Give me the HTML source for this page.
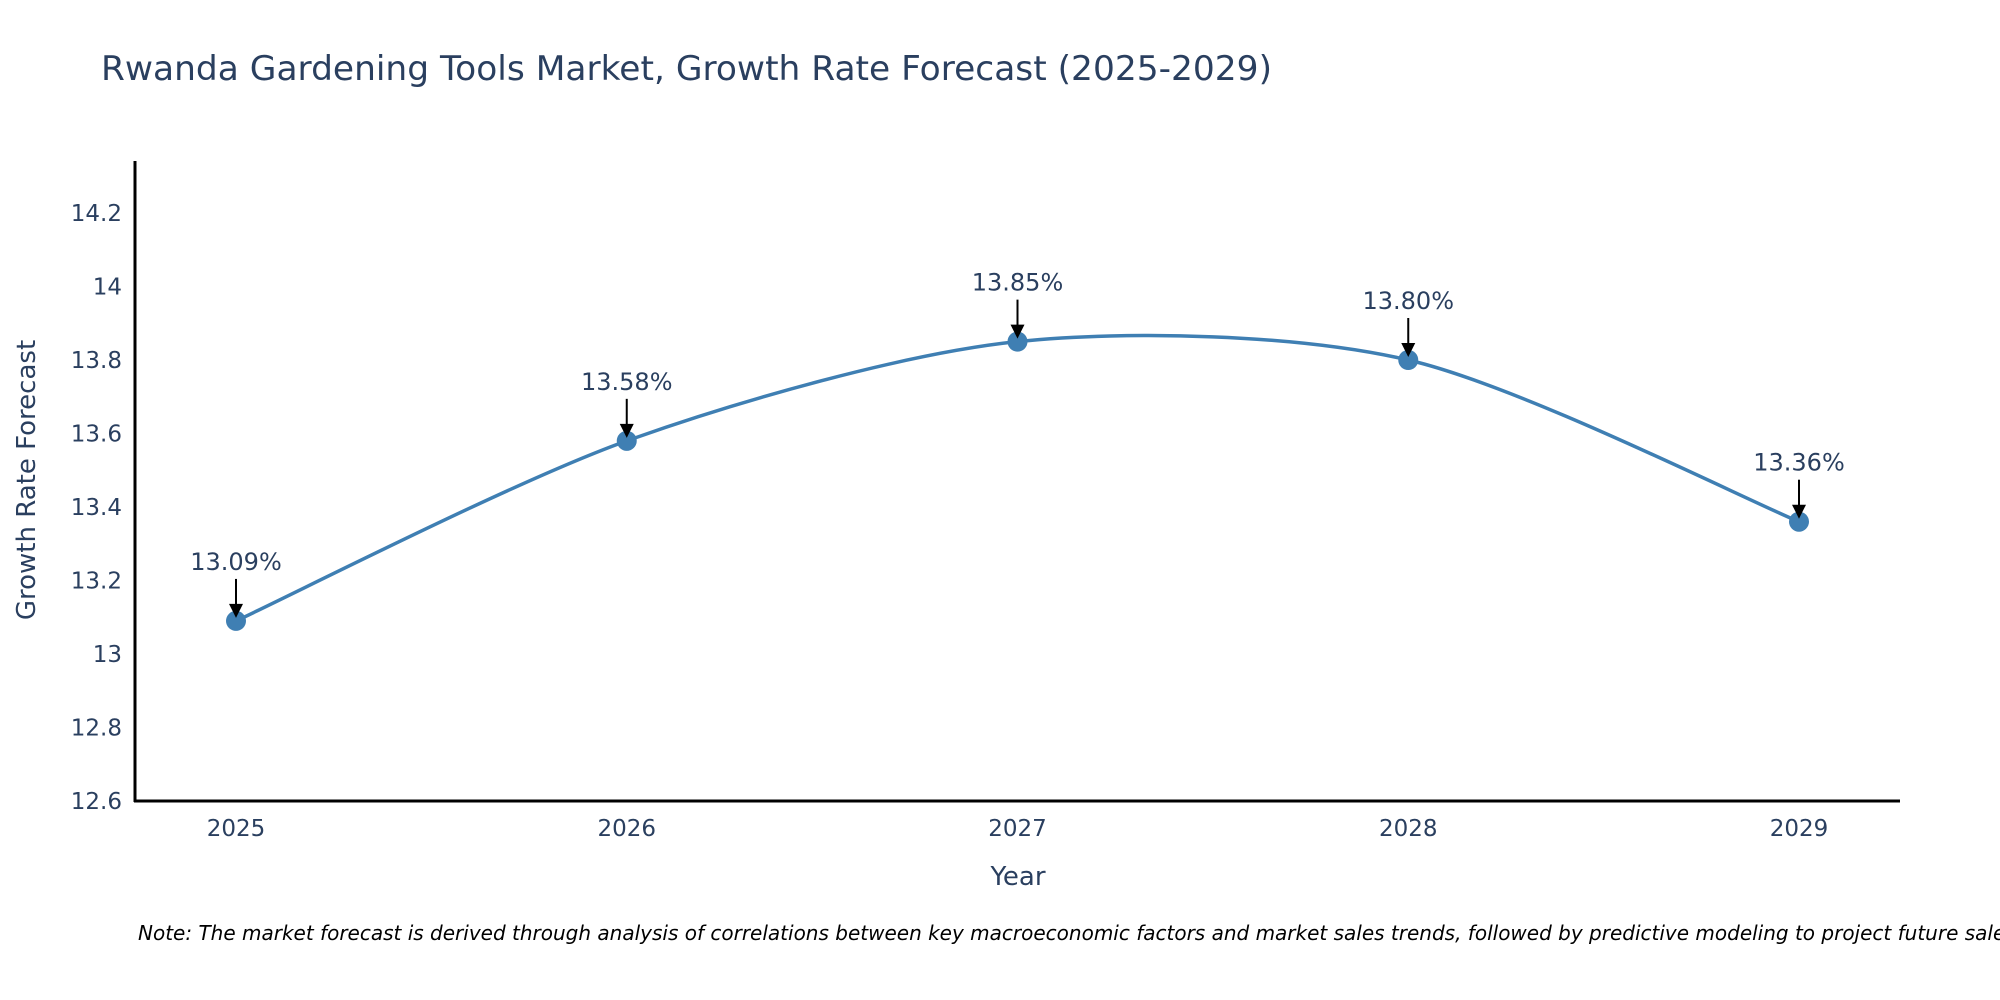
<!DOCTYPE html>
<html><head><meta charset="utf-8"><style>
body{margin:0;background:#fff;}
svg{display:block;font-family:"DejaVu Sans","Liberation Sans",sans-serif;}
</style></head><body>
<svg id="chart" width="2000" height="1000">
<text x="101" y="80" font-size="34" fill="#2a3f5f" textLength="1171" lengthAdjust="spacingAndGlyphs">Rwanda Gardening Tools Market, Growth Rate Forecast (2025-2029)</text>
<g id="yticks"></g><g id="xticks"></g>
<g id="series"></g><g id="annots"></g>
<line x1="135" y1="161" x2="135" y2="802" stroke="#000" stroke-width="3"/>
<line x1="134" y1="801" x2="1900" y2="801" stroke="#000" stroke-width="3"/>
<text transform="translate(35,480) rotate(-90)" text-anchor="middle" font-size="26" fill="#2a3f5f">Growth Rate Forecast</text>
<text x="1018" y="885" text-anchor="middle" font-size="26" fill="#2a3f5f">Year</text>
<text x="138" y="940" font-size="20" font-style="italic" fill="#000">Note: The market forecast is derived through analysis of correlations between key macroeconomic factors and market sales trends, followed by predictive modeling to project future sales.</text>
</svg>
<script>
const years=[2025,2026,2027,2028,2029];
const values=[13.09,13.58,13.85,13.80,13.36];
const labels=["13.09%","13.58%","13.85%","13.80%","13.36%"];
const yTicks=[12.6,12.8,13,13.2,13.4,13.6,13.8,14,14.2];
const yTickLabels=["12.6","12.8","13","13.2","13.4","13.6","13.8","14","14.2"];
const NS="http://www.w3.org/2000/svg";
const xs=y=>236+(y-2025)*390.75;
const ys=v=>801-(v-12.6)/0.2*73.5;
function mk(t,a,p){const e=document.createElementNS(NS,t);for(const k in a)e.setAttribute(k,a[k]);p.appendChild(e);return e;}
const yg=document.getElementById('yticks');
yTicks.forEach((v,i)=>{const t=mk('text',{x:122,y:ys(v)+8,'text-anchor':'end','font-size':23,fill:'#2a3f5f'},yg);t.textContent=yTickLabels[i];

});
const xg=document.getElementById('xticks');
years.forEach(y=>{const t=mk('text',{x:xs(y),y:836,'text-anchor':'middle','font-size':23,fill:'#2a3f5f'},xg);t.textContent=String(y);

});
const pts=years.map((y,i)=>[xs(y),ys(values[i])]);
let d=`M${pts[0][0]},${pts[0][1]}`;
for(let i=0;i<pts.length-1;i++){const p0=pts[Math.max(0,i-1)],p1=pts[i],p2=pts[i+1],p3=pts[Math.min(pts.length-1,i+2)];const k=1/7;
d+=` C${p1[0]+(p2[0]-p0[0])*k},${p1[1]+(p2[1]-p0[1])*k} ${p2[0]-(p3[0]-p1[0])*k},${p2[1]-(p3[1]-p1[1])*k} ${p2[0]},${p2[1]}`;}
const sg=document.getElementById('series');
const line=mk('path',{d:d,fill:'none',stroke:'#3f7fb3','stroke-width':3.5},sg);


const ag=document.getElementById('annots');
pts.forEach((p,i)=>{const c=mk('circle',{cx:p[0],cy:p[1],r:10,fill:'#3f7fb3'},sg);


const l=mk('line',{x1:p[0],y1:p[1]-42,x2:p[0],y2:p[1]-16,stroke:'#000','stroke-width':2},ag);


const h=mk('path',{d:`M${p[0]-7},${p[1]-17} L${p[0]+7},${p[1]-17} L${p[0]},${p[1]-3} Z`,fill:'#000'},ag);


const t=mk('text',{x:p[0],y:p[1]-51,'text-anchor':'middle','font-size':24,fill:'#2a3f5f'},ag);t.textContent=labels[i];

});
</script>
</body></html>
